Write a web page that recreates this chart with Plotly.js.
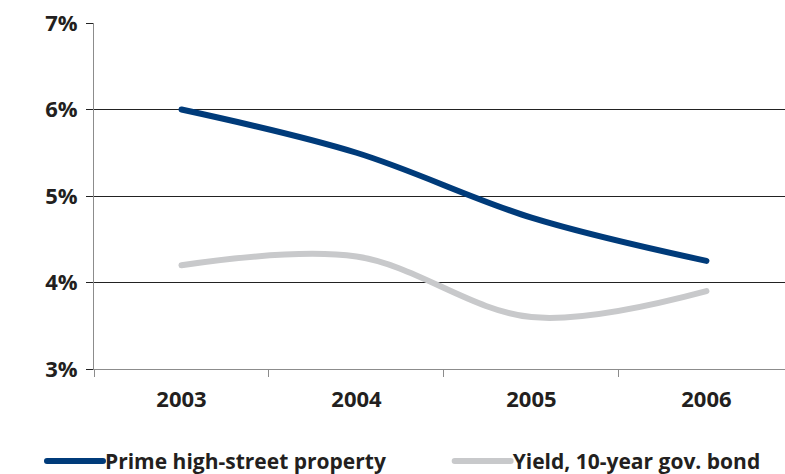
<!DOCTYPE html>
<html>
<head>
<meta charset="utf-8">
<script src="https://cdn.plot.ly/plotly-3.0.1.min.js"></script>
<style>html,body{margin:0;padding:0;background:#fff;}#chart{width:785px;height:474px;}</style>
</head>
<body>
<div id="chart"></div>
<script>
const years = ['2003', '2004', '2005', '2006'];
const primeHighStreet = [6.0, 5.5, 4.75, 4.25];
const govBondYield = [4.2, 4.3, 3.6, 3.9];
const yTickVals = [3, 4, 5, 6, 7];
const yTickText = ['3%', '4%', '5%', '6%', '7%'];

const FONT = 'Open Sans, DejaVu Sans, sans-serif';
const TXT = '#231F20';

const traces = [
  {
    x: years, y: primeHighStreet, name: 'Prime high-street property',
    type: 'scatter', mode: 'lines', legend: 'legend',
    line: {color: '#003B7A', width: 6, shape: 'spline', smoothing: 1}
  },
  {
    x: years, y: govBondYield, name: 'Yield, 10-year gov. bond',
    type: 'scatter', mode: 'lines', legend: 'legend2',
    line: {color: '#C8C9CB', width: 6, shape: 'spline', smoothing: 1}
  }
];

const legendFont = {family: FONT, size: 21, color: TXT, weight: 'bold'};

const layout = {
  width: 785, height: 474,
  margin: {l: 94, r: 0, t: 23, b: 105, pad: 0, autoexpand: false},
  paper_bgcolor: '#fff', plot_bgcolor: '#fff',
  font: {family: FONT, size: 21, color: TXT, weight: 'bold'},
  showlegend: true,
  legend: {
    orientation: 'h', x: -0.042, xanchor: 'left', y: -0.208, yanchor: 'top',
    font: legendFont, bgcolor: 'rgba(0,0,0,0)'
  },
  legend2: {
    orientation: 'h', x: 0.548, xanchor: 'left', y: -0.208, yanchor: 'top',
    font: legendFont, bgcolor: 'rgba(0,0,0,0)'
  },
  xaxis: {
    type: 'category', range: [-0.5, 3.449],
    showgrid: false, zeroline: false,
    showline: true, linecolor: '#8C8C8C', linewidth: 1,
    ticks: 'outside', ticklen: 7, tickcolor: '#8C8C8C', tickwidth: 1,
    tickson: 'boundaries',
    ticklabelstandoff: 11,
    tickfont: {family: FONT, size: 22, color: TXT, weight: 'bold'}
  },
  yaxis: {
    range: [3, 7], tickvals: yTickVals, ticktext: yTickText,
    showgrid: true, gridcolor: '#222', gridwidth: 1,
    zeroline: false,
    showline: true, linecolor: '#8C8C8C', linewidth: 1,
    ticks: 'outside', ticklen: 7, tickcolor: '#222', tickwidth: 1,
    ticklabelstandoff: 4,
    tickfont: {family: FONT, size: 22, color: TXT, weight: 'bold'}
  }
};

Plotly.newPlot('chart', traces, layout, {displayModeBar: false, staticPlot: true}).then(function (gd) {
  // longer, rounded legend line samples as in the reference
  gd.querySelectorAll('.scrollbox').forEach(function (el) {
    el.removeAttribute('clip-path');
  });
  gd.querySelectorAll('.legendlines path').forEach(function (p) {
    p.setAttribute('d', 'M-18,0h56');
    p.style.strokeLinecap = 'round';
  });
  gd.querySelectorAll('.scatterlayer .js-line').forEach(function (p) {
    p.style.strokeLinecap = 'round';
  });
});
</script>
</body>
</html>
